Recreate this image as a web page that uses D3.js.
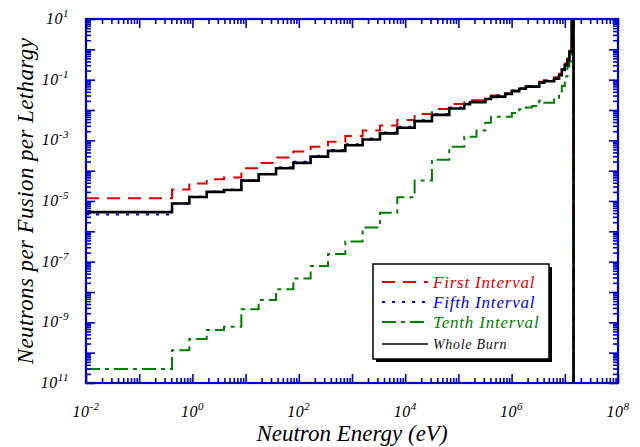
<!DOCTYPE html>
<html>
<head>
<meta charset="utf-8">
<script src="https://cdn.jsdelivr.net/npm/d3@7"></script>
<style>
  body { margin: 0; background: #fff; }
  svg text { font-family: "Liberation Serif", "Times New Roman", serif; font-style: italic; }
</style>
</head>
<body>
<div id="chart"></div>
<script>
// group boundaries (eV)
var energyEdges = [0.01, 0.414, 0.876, 1.86, 3.93, 8.32, 17.6, 37.3, 78.9, 167, 354, 749, 1585, 3355, 7100,
    15030, 31820, 67370, 129000, 165000, 219000, 320000, 409000, 537000, 760000, 1.01e6, 1.39e6, 1.85e6,
    2.43e6, 3.3e6, 4.09e6, 5.07e6, 6.3e6, 7.8e6, 8.78e6, 1.0e7, 1.12e7, 1.22e7, 1.35e7, 1.46e7, 2.0e7];

var firstInterval = [1.23e-5, 2.4e-5, 3.8e-5, 5.2e-5, 5.9e-5, 1.2e-4, 1.8e-4, 2.7e-4, 4.3e-4, 6.2e-4, 8.9e-4,
    1.38e-3, 2.1e-3, 3.1e-3, 4.7e-3, 7.4e-3, 1.07e-2, 1.58e-2, 1.9e-2, 2.1e-2, 2.1e-2, 2.5e-2, 3.0e-2, 3.1e-2,
    3.5e-2, 4.3e-2, 5.2e-2, 5.9e-2, 6.2e-2, 8.5e-2, 9.5e-2, 9.8e-2, 0.12, 0.158, 0.23, 0.34, 0.50, 0.89, 30, 1e-14];

var fifthInterval = [3.6e-6, 8.3e-6, 1.38e-5, 2.04e-5, 2.4e-5, 4.9e-5, 7.9e-5, 1.29e-4, 1.95e-4, 3.1e-4, 4.8e-4,
    7.4e-4, 1.15e-3, 1.8e-3, 2.8e-3, 4.6e-3, 7.4e-3, 1.2e-2, 1.62e-2, 1.9e-2, 1.95e-2, 2.4e-2, 2.9e-2, 2.95e-2,
    3.5e-2, 4.4e-2, 5.2e-2, 6.2e-2, 6.2e-2, 8.3e-2, 9.3e-2, 9.3e-2, 0.112, 0.148, 0.22, 0.32, 0.47, 0.87, 30, 1e-14];

var tenthInterval = [2.9e-11, 1.2e-10, 2.8e-10, 5.6e-10, 7.2e-10, 2.7e-9, 5.5e-9, 1.23e-8, 2.8e-8, 7.2e-8, 1.8e-7,
    4.6e-7, 1.35e-6, 4.1e-6, 1.32e-5, 4.7e-5, 2.3e-4, 6.2e-4, 1.32e-3, 1.32e-3, 2.1e-3, 3.8e-3, 6.0e-3, 6.0e-3,
    6.0e-3, 7.9e-3, 1.05e-2, 1.2e-2, 1.35e-2, 2.0e-2, 1.74e-2, 1.74e-2, 2.2e-2, 3.2e-2, 6.2e-2, 0.126, 0.27, 0.40, 30, 1e-14];

var wholeBurn = [4.3e-6, 8.3e-6, 1.35e-5, 2.0e-5, 2.3e-5, 4.7e-5, 7.6e-5, 1.2e-4, 1.8e-4, 2.9e-4, 4.5e-4,
    6.9e-4, 1.07e-3, 1.7e-3, 2.6e-3, 4.3e-3, 6.9e-3, 1.12e-2, 1.55e-2, 1.8e-2, 1.8e-2, 2.3e-2, 2.7e-2, 2.75e-2,
    3.4e-2, 4.2e-2, 5.0e-2, 5.9e-2, 5.9e-2, 7.9e-2, 8.9e-2, 8.9e-2, 0.107, 0.141, 0.21, 0.30, 0.45, 0.83, 30, 1e-14];

var xTickValues = [1e-2, 1e0, 1e2, 1e4, 1e6, 1e8];
var xTickExps = ["-2", "0", "2", "4", "6", "8"];
var yTickValues = [1e1, 1e-1, 1e-3, 1e-5, 1e-7, 1e-9, 1e-11];
var yTickExps = ["1", "-1", "-3", "-5", "-7", "-9", "11"];

var seriesNames = ["First Interval", "Fifth Interval", "Tenth Interval", "Whole Burn"];
var seriesColors = ["#e00000", "#0000e6", "#008000", "#000000"];

var width = 640, height = 447;
var margin = {top: 19, right: 22, bottom: 64, left: 86};
var innerW = width - margin.left - margin.right,
    innerH = height - margin.top - margin.bottom;
var axisColor = "#0000cc";

var svg = d3.select("#chart").append("svg")
    .attr("width", width)
    .attr("height", height);

var g = svg.append("g")
    .attr("transform", "translate(" + margin.left + "," + margin.top + ")");

var x = d3.scaleLog().domain([1e-2, 1e8]).range([0, innerW]);
var y = d3.scaleLog().domain([1e-11, 1e1]).range([innerH, 0]);

g.append("clipPath").attr("id", "plotclip")
    .append("rect").attr("x", 0).attr("y", 0).attr("width", innerW).attr("height", innerH);

// step curves
function stepPoints(vals) {
    var pts = vals.map(function (v, i) { return [energyEdges[i], v]; });
    pts.push([energyEdges[energyEdges.length - 1], vals[vals.length - 1]]);
    return pts;
}
var line = d3.line()
    .x(function (d) { return x(d[0]); })
    .y(function (d) { return y(d[1]); })
    .curve(d3.curveStepAfter);

var seriesData = [firstInterval, fifthInterval, tenthInterval, wholeBurn];
var dashes = ["13,8", "3,7", "14,5,4,5", null];
var widths = [2, 2, 2, 2.6];

var plot = g.append("g").attr("clip-path", "url(#plotclip)");
seriesData.forEach(function (vals, i) {
    plot.append("path")
        .datum(stepPoints(vals))
        .attr("fill", "none")
        .attr("stroke", seriesColors[i])
        .attr("stroke-width", widths[i])
        .attr("stroke-dasharray", dashes[i])
        .attr("d", line);
});

// ticks
var minorX = [], minorY = [];
for (var k = -2; k < 8; k++) for (var m = 2; m < 10; m++) minorX.push(m * Math.pow(10, k));
for (var k = -11; k < 1; k++) for (var m = 2; m < 10; m++) minorY.push(m * Math.pow(10, k));
var majorX = d3.range(-2, 9).map(function (e) { return Math.pow(10, e); });
var majorY = d3.range(-11, 2).map(function (e) { return Math.pow(10, e); });

function addAxis(axisFn, scale, vals, size, tr) {
    var a = g.append("g")
        .attr("transform", tr)
        .call(axisFn(scale).tickValues(vals).tickSize(-size).tickSizeOuter(0).tickFormat(""));
    a.select(".domain").remove();
    a.selectAll("line").attr("stroke", axisColor).attr("stroke-width", 1.6);
}
addAxis(d3.axisBottom, x, majorX, 9, "translate(0," + innerH + ")");
addAxis(d3.axisBottom, x, minorX, 5, "translate(0," + innerH + ")");
addAxis(d3.axisTop, x, majorX, 9, "translate(0,0)");
addAxis(d3.axisTop, x, minorX, 5, "translate(0,0)");
addAxis(d3.axisLeft, y, majorY, 9, "translate(0,0)");
addAxis(d3.axisLeft, y, minorY, 5, "translate(0,0)");
addAxis(d3.axisRight, y, majorY, 9, "translate(" + innerW + ",0)");
addAxis(d3.axisRight, y, minorY, 5, "translate(" + innerW + ",0)");

g.append("rect")
    .attr("width", innerW).attr("height", innerH)
    .attr("fill", "none")
    .attr("stroke", axisColor)
    .attr("stroke-width", 2.2);

// tick labels
xTickValues.forEach(function (v, i) {
    var t = g.append("text")
        .attr("x", x(v)).attr("y", innerH + 34)
        .attr("text-anchor", "middle")
        .attr("font-size", "16px")
        .attr("letter-spacing", "0.5px")
        .attr("fill", "#000");
    t.append("tspan").text("10");
    t.append("tspan").attr("dy", -7).attr("font-size", "11px").text(xTickExps[i]);
});
yTickValues.forEach(function (v, i) {
    var t = g.append("text")
        .attr("x", -17).attr("y", y(v) + 5)
        .attr("text-anchor", "end")
        .attr("font-size", "16px")
        .attr("letter-spacing", "0.5px")
        .attr("fill", "#000");
    t.append("tspan").text("10");
    t.append("tspan").attr("dy", -7).attr("font-size", "11px").text(yTickExps[i]);
});

// axis titles
svg.append("text")
    .attr("x", margin.left + innerW / 2).attr("y", 441)
    .attr("text-anchor", "middle")
    .attr("font-size", "23px")
    .attr("fill", "#000")
    .text("Neutron Energy (eV)");
svg.append("text")
    .attr("transform", "translate(33," + (margin.top + innerH / 2) + ") rotate(-90)")
    .attr("text-anchor", "middle")
    .attr("font-size", "23px")
    .attr("letter-spacing", "0.4px")
    .attr("fill", "#000")
    .text("Neutrons per Fusion per Lethargy");

// legend
var lg = svg.append("g").attr("transform", "translate(373,264)");
lg.append("rect").attr("x", 3).attr("y", 3).attr("width", 176).attr("height", 95).attr("fill", "#000");
lg.append("rect").attr("width", 176).attr("height", 95).attr("fill", "#fff")
    .attr("stroke", "#000").attr("stroke-width", 1.5);
var rowY = [18, 38, 58, 80];
seriesNames.forEach(function (name, i) {
    lg.append("line")
        .attr("x1", 9).attr("x2", 55)
        .attr("y1", rowY[i]).attr("y2", rowY[i])
        .attr("stroke", seriesColors[i])
        .attr("stroke-width", i === 3 ? 1.6 : 2)
        .attr("stroke-dasharray", dashes[i]);
    lg.append("text")
        .attr("x", 60).attr("y", rowY[i] + (i === 3 ? 5 : 6))
        .attr("font-size", i === 3 ? "14px" : "17px")
        .attr("letter-spacing", i === 3 ? "0.7px" : "0.8px")
        .attr("fill", i === 3 ? "#111" : seriesColors[i])
        .text(name);
});
</script>
</body>
</html>
